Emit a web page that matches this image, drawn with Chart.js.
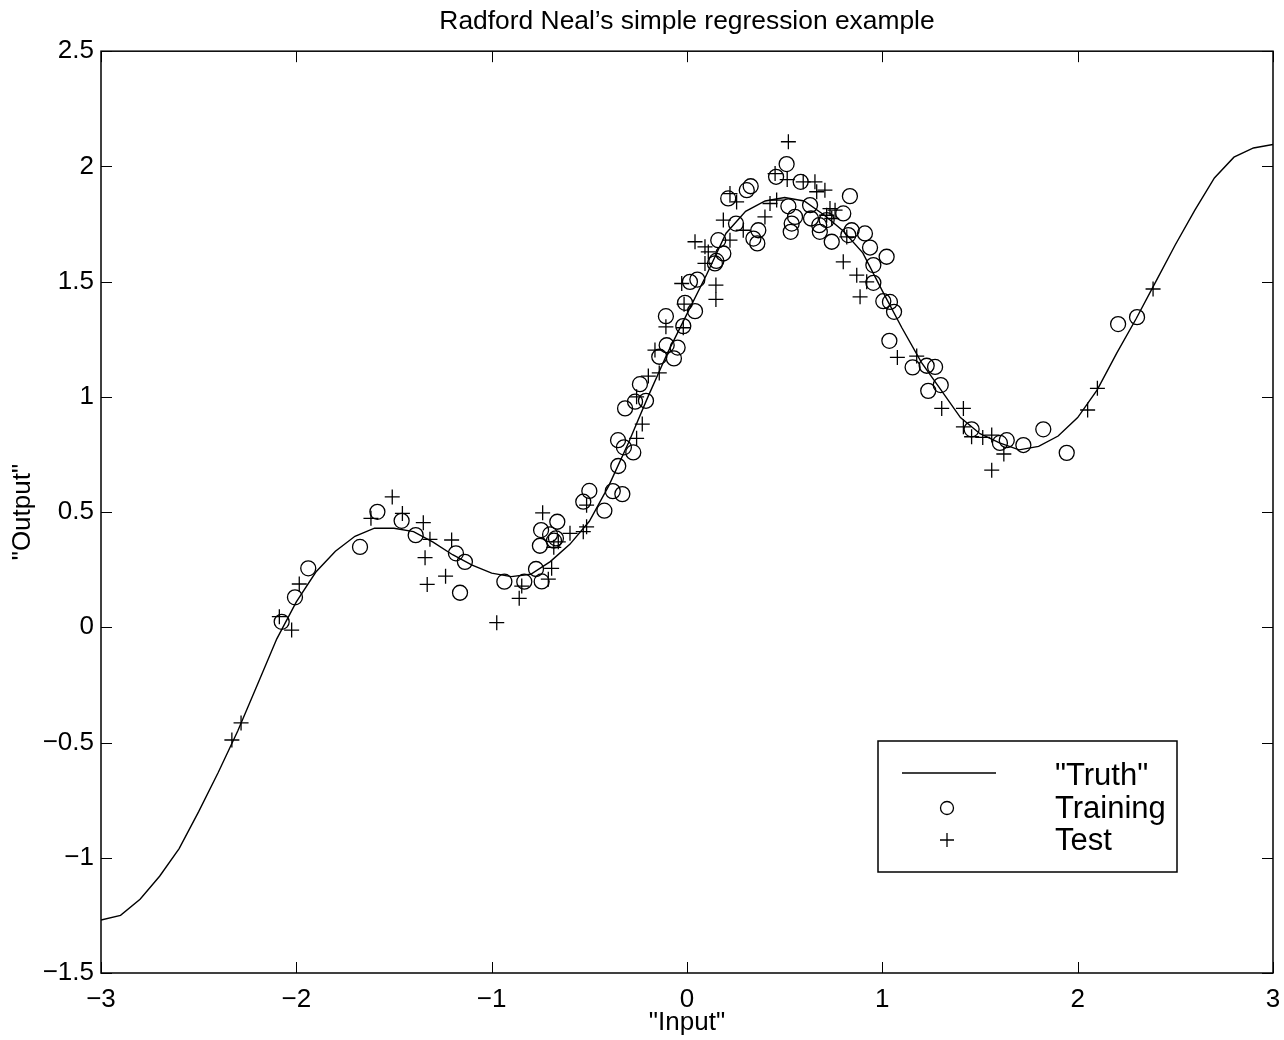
<!DOCTYPE html>
<html>
<head>
<meta charset="utf-8">
<title>Radford Neal's simple regression example</title>
<script src="https://cdn.jsdelivr.net/npm/chart.js"></script>
<style>
  html, body { margin: 0; padding: 0; background: #fff; }
  #wrap { width: 1284px; height: 1040px; }
</style>
</head>
<body>
<div id="wrap"><canvas id="chart" width="1284" height="1040"></canvas></div>
<script>
// "Truth" curve, every 0.1
const truthX = [-3.0, -2.9, -2.8, -2.7, -2.6, -2.5, -2.4, -2.3, -2.2, -2.1,
                -2.0, -1.9, -1.8, -1.7, -1.6, -1.5, -1.4, -1.3, -1.2, -1.1,
                -1.0, -0.9, -0.8, -0.7, -0.6, -0.5, -0.4, -0.3, -0.2, -0.1,
                0.0, 0.1, 0.2, 0.3, 0.4, 0.5, 0.6, 0.7, 0.8, 0.9,
                1.0, 1.1, 1.2, 1.3, 1.4, 1.5, 1.6, 1.7, 1.8, 1.9,
                2.0, 2.1, 2.2, 2.3, 2.4, 2.5, 2.6, 2.7, 2.8, 2.9, 3.0];
const truthY = [-1.27, -1.25, -1.18, -1.08, -0.96, -0.80, -0.63, -0.45, -0.25, -0.05,
                0.11, 0.24, 0.33, 0.395, 0.43, 0.43, 0.415, 0.37, 0.315, 0.27,
                0.235, 0.22, 0.23, 0.285, 0.36, 0.46, 0.615, 0.80, 1.00, 1.19,
                1.36, 1.53, 1.71, 1.805, 1.85, 1.865, 1.85, 1.79, 1.72, 1.625,
                1.46, 1.30, 1.15, 1.03, 0.91, 0.84, 0.80, 0.77, 0.785, 0.83,
                0.91, 1.03, 1.19, 1.34, 1.50, 1.66, 1.81, 1.95, 2.04, 2.08, 2.095];

// training cases (circles)
const trainX = [-2.075, -2.007, -1.939, -1.674, -1.585, -1.461, -1.389, -1.183, -1.137, -1.162,
                -0.935, -0.833, -0.744, -0.773, -0.753, -0.747, -0.701, -0.664, -0.671, -0.681,
                -0.531, -0.50, -0.423, -0.38, -0.331, -0.352, -0.353, -0.323, -0.275, -0.317,
                -0.266, -0.21, -0.241, -0.142, -0.067, -0.104, -0.048, -0.108, -0.019, -0.01,
                0.041, 0.015, 0.053, 0.143, 0.15, 0.186, 0.16, 0.251, 0.211, 0.306,
                0.326, 0.365, 0.34, 0.36, 0.456, 0.51, 0.582, 0.519, 0.553, 0.536,
                0.531, 0.63, 0.635, 0.677, 0.68, 0.715, 0.80, 0.834, 0.741, 0.826,
                0.843, 0.911, 0.937, 0.954, 0.954, 1.022, 1.005, 1.039, 1.06, 1.036,
                1.155, 1.227, 1.27, 1.299, 1.235, 1.457, 1.602, 1.637, 1.722, 1.824,
                1.944, 2.207, 2.304];
const trainY = [0.024, 0.13, 0.256, 0.349, 0.501, 0.462, 0.40, 0.321, 0.284, 0.15,
                0.198, 0.198, 0.199, 0.253, 0.354, 0.422, 0.403, 0.458, 0.386, 0.376,
                0.545, 0.592, 0.506, 0.591, 0.578, 0.70, 0.812, 0.781, 0.759, 0.95,
                0.979, 0.983, 1.055, 1.174, 1.167, 1.224, 1.214, 1.35, 1.307, 1.408,
                1.372, 1.499, 1.509, 1.579, 1.59, 1.622, 1.68, 1.752, 1.861, 1.897,
                1.914, 1.723, 1.687, 1.666, 1.955, 2.01, 1.933, 1.827, 1.781, 1.752,
                1.716, 1.832, 1.774, 1.745, 1.716, 1.767, 1.796, 1.871, 1.673, 1.702,
                1.723, 1.709, 1.648, 1.572, 1.495, 1.608, 1.415, 1.412, 1.369, 1.243,
                1.128, 1.135, 1.13, 1.051, 1.026, 0.859, 0.80, 0.812, 0.791, 0.859,
                0.757, 1.316, 1.346];

// test cases (plus signs)
const testX = [-2.33, -2.283, -2.087, -2.024, -1.985, -1.618, -1.509, -1.457, -1.35, -1.316,
               -1.341, -1.33, -1.236, -1.205, -0.974, -0.859, -0.846, -0.71, -0.693, -0.739,
               -0.682, -0.659, -0.599, -0.531, -0.514, -0.514, -0.258, -0.229, -0.258, -0.198,
               -0.142, -0.164, -0.108, -0.019, -0.015, -0.027, 0.092, 0.148, 0.148, 0.109,
               0.519, 0.451, 0.513, 0.595, 0.655, 0.664, 0.706, 0.732, 0.758, 0.715,
               0.741, 0.425, 0.459, 0.399, 0.22, 0.254, 0.186, 0.288, 0.041, 0.092,
               0.22, 0.80, 0.869, 0.92, 0.886, 0.818, 1.077, 1.176, 1.304, 1.415,
               1.415, 1.457, 1.514, 1.56, 1.622, 1.56, 2.051, 2.101, 2.386];
const testY = [-0.489, -0.415, 0.046, -0.012, 0.188, 0.473, 0.566, 0.494, 0.454, 0.382,
               0.302, 0.186, 0.222, 0.379, 0.02, 0.126, 0.179, 0.209, 0.256, 0.497,
               0.347, 0.371, 0.408, 0.415, 0.436, 0.53, 0.82, 0.882, 1.0, 1.09,
               1.104, 1.203, 1.304, 1.30, 1.402, 1.492, 1.579, 1.485, 1.423, 1.629,
               2.107, 1.969, 1.943, 1.933, 1.933, 1.89, 1.897, 1.817, 1.81, 1.788,
               1.774, 1.839, 1.854, 1.781, 1.882, 1.846, 1.767, 1.723, 1.673, 1.651,
               1.68, 1.586, 1.528, 1.499, 1.434, 1.694, 1.171, 1.177, 0.95, 0.95,
               0.87, 0.827, 0.824, 0.834, 0.752, 0.682, 0.943, 1.037, 1.468];

const xTicks = [-3, -2, -1, 0, 1, 2, 3];
const yTicks = [-1.5, -1, -0.5, 0, 0.5, 1, 1.5, 2, 2.5];

const toPoints = (xs, ys) => xs.map((x, i) => ({ x: x, y: ys[i] }));
const minus = v => String(v).replace('-', '\u2212');

Chart.defaults.font.family = '"Liberation Sans", Arial, Helvetica, sans-serif';
Chart.defaults.color = '#000';

// centre the title over the axes rather than the whole canvas
const centreTitle = {
  id: 'centreTitle',
  afterLayout(chart) {
    const t = chart.titleBlock;
    if (t) {
      t.left = chart.chartArea.left;
      t.right = chart.chartArea.right;
    }
  }
};

// box round the axes, with inward ticks on all four sides
const framePlugin = {
  id: 'frame',
  afterDatasetsDraw(chart) {
    const { ctx, chartArea: a, scales } = chart;
    const len = 11;
    ctx.save();
    ctx.strokeStyle = '#000';
    ctx.lineWidth = 1.5;
    ctx.strokeRect(a.left, a.top, a.right - a.left, a.bottom - a.top);
    ctx.lineWidth = 1;
    ctx.beginPath();
    xTicks.forEach(v => {
      const px = Math.round(scales.x.getPixelForValue(v)) + 0.5;
      ctx.moveTo(px, a.bottom); ctx.lineTo(px, a.bottom - len);
      ctx.moveTo(px, a.top); ctx.lineTo(px, a.top + len);
    });
    yTicks.forEach(v => {
      const py = Math.round(scales.y.getPixelForValue(v)) + 0.5;
      ctx.moveTo(a.left, py); ctx.lineTo(a.left + len, py);
      ctx.moveTo(a.right, py); ctx.lineTo(a.right - len, py);
    });
    ctx.stroke();
    ctx.restore();
  }
};

// legend box in the lower right, as in the original
const legendBox = {
  id: 'legendBox',
  afterDraw(chart) {
    const ctx = chart.ctx;
    const ds = chart.data.datasets;
    const bx = 878, by = 741, bw = 299, bh = 131;
    const mx = 947, tx = 1055;
    const rows = [773, 808, 840];
    ctx.save();
    ctx.fillStyle = '#fff';
    ctx.fillRect(bx, by, bw, bh);
    ctx.strokeStyle = '#000';
    ctx.lineWidth = 1.5;
    ctx.strokeRect(bx, by, bw, bh);

    ctx.lineWidth = 1.3;
    ctx.beginPath();
    ctx.moveTo(902, rows[0]); ctx.lineTo(996, rows[0]);
    ctx.stroke();
    ctx.beginPath();
    ctx.arc(mx, rows[1], 6.5, 0, Math.PI * 2);
    ctx.stroke();
    ctx.beginPath();
    ctx.moveTo(mx - 7, rows[2]); ctx.lineTo(mx + 7, rows[2]);
    ctx.moveTo(mx, rows[2] - 7); ctx.lineTo(mx, rows[2] + 7);
    ctx.stroke();

    ctx.fillStyle = '#000';
    ctx.font = '31px "Liberation Sans", Arial, sans-serif';
    ctx.textBaseline = 'alphabetic';
    ctx.textAlign = 'left';
    ctx.fillText(ds[0].label, tx, 785);
    ctx.fillText(ds[1].label, tx, 818);
    ctx.fillText(ds[2].label, tx, 850);
    ctx.restore();
  }
};

new Chart(document.getElementById('chart'), {
  type: 'scatter',
  data: {
    datasets: [
      {
        label: '"Truth"',
        data: toPoints(truthX, truthY),
        showLine: true,
        borderColor: '#000',
        borderWidth: 1.4,
        pointRadius: 0,
        tension: 0
      },
      {
        label: 'Training',
        data: toPoints(trainX, trainY),
        pointStyle: 'circle',
        pointRadius: 7.5,
        borderColor: '#000',
        backgroundColor: 'rgba(0,0,0,0)',
        pointBorderWidth: 1.3
      },
      {
        label: 'Test',
        data: toPoints(testX, testY),
        pointStyle: 'cross',
        pointRadius: 7.5,
        borderColor: '#000',
        pointBorderWidth: 1.3
      }
    ]
  },
  options: {
    responsive: false,
    animation: false,
    devicePixelRatio: 1,
    layout: { padding: { left: 0, right: 11, top: 0, bottom: 0 } },
    plugins: {
      legend: { display: false },
      tooltip: { enabled: false },
      title: {
        display: true,
        text: 'Radford Neal\u2019s simple regression example',
        font: { size: 26.4, weight: 'normal' },
        padding: { top: 6, bottom: 13.5 }
      }
    },
    scales: {
      x: {
        type: 'linear',
        min: -3, max: 3,
        afterBuildTicks: s => { s.ticks = xTicks.map(v => ({ value: v })); },
        afterFit: s => { s.height = 67; s.paddingLeft = 0; s.paddingRight = 0; },
        grid: { display: false, drawTicks: false },
        border: { display: false },
        ticks: { font: { size: 26 }, padding: 11, maxRotation: 0, callback: v => minus(v) },
        title: { display: true, text: '"Input"', font: { size: 26 }, padding: { top: 0, bottom: 2 } }
      },
      y: {
        type: 'linear',
        min: -1.5, max: 2.5,
        afterBuildTicks: s => { s.ticks = yTicks.map(v => ({ value: v })); },
        afterFit: s => { s.width = 101; s.paddingTop = 0; s.paddingBottom = 0; },
        grid: { display: false, drawTicks: false },
        border: { display: false },
        ticks: { font: { size: 26 }, padding: 7, callback: v => minus(v) },
        title: { display: true, text: '"Output"', font: { size: 26 }, padding: { top: 7, bottom: 0 } }
      }
    }
  },
  plugins: [centreTitle, framePlugin, legendBox]
});
</script>
</body>
</html>
